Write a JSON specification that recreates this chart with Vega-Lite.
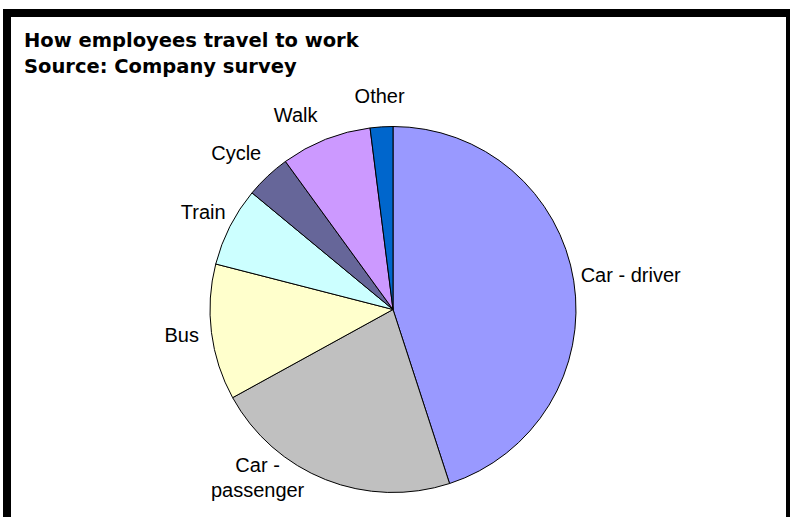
{
  "$schema": "https://vega.github.io/schema/vega-lite/v6.json",
  "width": 790,
  "height": 517,
  "autosize": {"type": "fit", "contains": "padding"},
  "padding": {"left": 7, "top": 7, "right": 0, "bottom": -89},
  "background": "white",
  "view": {"stroke": "black", "strokeWidth": 8, "fill": "white"},
  "config": {
    "view": {"stroke": "black", "strokeWidth": 8},
    "text": {"font": "Liberation Sans", "fontSize": 20, "color": "black", "lineBreak": "\n", "lineHeight": 25}
  },
  "title": {
    "text": ["How employees travel to work", "Source: Company survey"],
    "anchor": "start",
    "frame": "group",
    "orient": "top",
    "baseline": "top",
    "offset": -64,
    "dx": 17,
    "font": "DejaVu Sans",
    "fontSize": 19.5,
    "fontWeight": "bold",
    "color": "black",
    "lineHeight": 26
  },
  "data": {
    "values": [
      {"name": "Car - driver", "label": "Car - driver", "share": 45, "order": 1},
      {"name": "Car - passenger", "label": "Car -\npassenger", "share": 22, "order": 2},
      {"name": "Bus", "label": "Bus", "share": 12, "order": 3},
      {"name": "Train", "label": "Train", "share": 7, "order": 4},
      {"name": "Cycle", "label": "Cycle", "share": 4, "order": 5},
      {"name": "Walk", "label": "Walk", "share": 8, "order": 6},
      {"name": "Other", "label": "Other", "share": 2, "order": 7}
    ]
  },
  "encoding": {
    "theta": {"field": "share", "type": "quantitative", "stack": true},
    "order": {"field": "order", "type": "quantitative"}
  },
  "layer": [
    {
      "mark": {"type": "arc", "radius": 183, "stroke": "black", "strokeWidth": 1, "xOffset": -5.5},
      "encoding": {
        "color": {
          "field": "name",
          "type": "nominal",
          "legend": null,
          "scale": {
            "domain": ["Car - driver", "Car - passenger", "Bus", "Train", "Cycle", "Walk", "Other"],
            "range": ["#9999FF", "#C0C0C0", "#FFFFCC", "#CCFFFF", "#666699", "#CC99FF", "#0066CC"]
          }
        }
      }
    },
    {
      "mark": {"type": "text", "radius": 213, "align": "center", "baseline": "middle", "xOffset": -5.5},
      "encoding": {
        "text": {"condition": {"test": "datum.name === 'Bus' || datum.name === 'Train' || datum.name === 'Other'", "field": "label", "type": "nominal"}, "value": ""}
      }
    },
    {
      "mark": {"type": "text", "radius": 213, "align": "center", "baseline": "middle", "xOffset": -16.5},
      "encoding": {
        "text": {"condition": {"test": "datum.name === 'Cycle'", "field": "label", "type": "nominal"}, "value": ""}
      }
    },
    {
      "mark": {"type": "text", "radius": 213, "align": "center", "baseline": "middle", "xOffset": -24.5, "yOffset": 5},
      "encoding": {
        "text": {"condition": {"test": "datum.name === 'Walk'", "field": "label", "type": "nominal"}, "value": ""}
      }
    },
    {
      "mark": {"type": "text", "radius": 190, "align": "left", "baseline": "middle", "xOffset": -5.5, "yOffset": -4},
      "encoding": {
        "text": {"condition": {"test": "datum.name === 'Car - driver'", "field": "label", "type": "nominal"}, "value": ""}
      }
    },
    {
      "mark": {"type": "text", "radius": 213, "align": "center", "baseline": "middle", "xOffset": -62.5, "yOffset": -41.5},
      "encoding": {
        "text": {"condition": {"test": "datum.name === 'Car - passenger'", "field": "label", "type": "nominal"}, "value": ""}
      }
    }
  ]
}
